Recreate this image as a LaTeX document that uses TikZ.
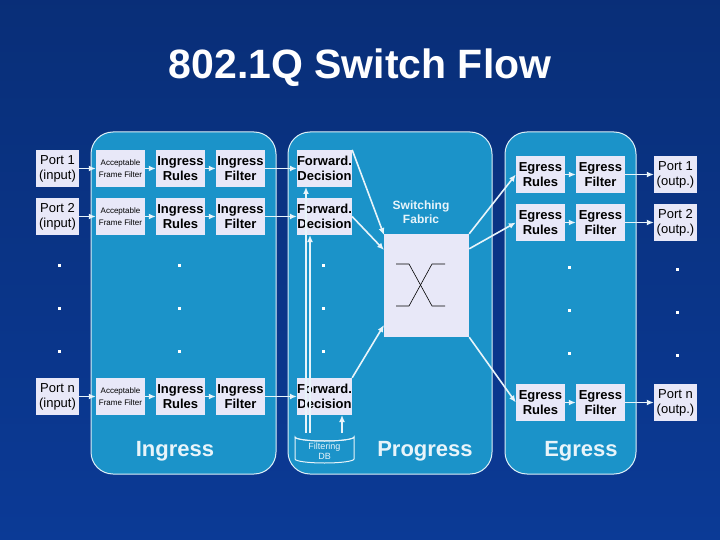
\documentclass[tikz,border=0pt]{standalone}
\usepackage{fontspec}
\setmainfont{Liberation Sans}
\usetikzlibrary{arrows.meta}
\definecolor{bgb}{HTML}{0B3A96}
\definecolor{pan}{HTML}{1B93C9}
\definecolor{lav}{HTML}{E8E8F8}
\begin{document}
\begin{tikzpicture}[x=1pt,y=-1pt,
 panel/.style={draw=white!85!pan,line width=1pt,fill=pan,rounded corners=22pt},
 box/.style={fill=lav,minimum width=49pt,minimum height=37pt,inner sep=0pt,align=center,font=\fontsize{13}{14.5}\selectfont\bfseries,text=black},
 port/.style={box,minimum width=43pt,font=\fontsize{13}{15}\selectfont},
 aff/.style={box,font=\fontsize{8}{12}\selectfont},
 arr/.style={draw=white!90!pan,line width=1.6pt,-{Latex[length=7pt,width=6pt]}},
 dot/.style={fill=white,minimum size=3pt,inner sep=0pt},
 lbl/.style={text=white!90!pan,font=\fontsize{22}{24}\selectfont\bfseries}]
\useasboundingbox (0,0) rectangle (720,540);
\shade[top color=bgb!80!black, bottom color=bgb] (0,0) rectangle (720,540);
\node[text=white!95!lav,font=\fontsize{41}{44}\selectfont\bfseries] (title) at (360,68) {802.1Q Switch Flow};
\draw[panel] (91,132) rectangle (276,474);
\draw[panel] (288,132) rectangle (492,474);
\draw[panel] (505,132) rectangle (636,474);
\foreach \r/\y/\t in {1/168.5/1,2/216.5/2,n/396.5/n}{
 \node[port] (p\r) at (57.5,\y) {Port \t\\(input)};
 \node[aff] (a\r) at (120.5,\y) {Acceptable\\Frame Filter};
 \node[box] (ir\r) at (180.5,\y) {Ingress\\Rules};
 \node[box] (if\r) at (240.5,\y) {Ingress\\Filter};
 \node[box] (fd\r) at (324.5,\y) {Forward.\\Decision};
 \draw[arr] (p\r) -- (a\r); \draw[arr] (a\r) -- (ir\r); \draw[arr] (ir\r) -- (if\r); \draw[arr] (if\r) -- (fd\r);
}
\foreach \r/\y/\t in {1/174.5/1,2/222.5/2,n/402.5/n}{
 \node[box] (er\r) at (540.5,\y) {Egress\\Rules};
 \node[box] (ef\r) at (600.5,\y) {Egress\\Filter};
 \node[port] (o\r) at (675.5,\y) {Port \t\\(outp.)};
 \draw[arr] (er\r) -- (ef\r); \draw[arr] (ef\r) -- (o\r);
}
\foreach \y [count=\i] in {265,308,351}{
 \node[dot] (d1\i) at (59,\y) {}; \node[dot] (d2\i) at (179,\y) {}; \node[dot] (d3\i) at (323,\y) {};
 \node[dot] (d4\i) at (569,\y+2) {}; \node[dot] (d5\i) at (677,\y+4) {};
}
\node[fill=lav,minimum width=85pt,minimum height=103pt,inner sep=0pt] (sf) at (426.5,285.5) {};
\node[text=white!90!pan,font=\fontsize{12}{14}\selectfont\bfseries,align=center] (sfl) at (421,212) {Switching\\Fabric};
\draw[black,line width=0.6pt] (396,264) -- (409,264) -- (432,306) -- (445,306);
\draw[black,line width=0.6pt] (396,306) -- (409,306) -- (432,264) -- (445,264);
\coordinate (s1) at (384,235); \coordinate (s2) at (384,250); \coordinate (sn) at (384,325);
\draw[arr] (fd1.north east) -- (s1); \draw[arr] (fd2.east) -- (s2); \draw[arr] (fdn.north east) -- (sn);
\draw[arr] (sf.north east) -- (er1.west); \draw[arr] (sf.north east) ++(0,15) -- (er2.west); \draw[arr] (sf.south east) -- (ern.west);
% filtering DB cylinder
\draw[draw=white!90!pan,line width=1pt,fill=pan] (295,437) -- (295,459) arc[start angle=180,end angle=360,x radius=29.5,y radius=-4] -- (354,437) arc[start angle=0,end angle=-180,x radius=29.5,y radius=-4] -- cycle;
\draw[draw=white!90!pan,line width=1pt] (295,437) arc[start angle=180,end angle=360,x radius=29.5,y radius=-4];
\node[text=white!90!pan,font=\fontsize{9}{10}\selectfont,align=center] (db) at (324.5,451) {Filtering\\DB};
\coordinate (db1) at (306,433); \coordinate (db2) at (310,433); \coordinate (db3) at (342,433);
\draw[arr] (db1) -- (306,187);
\draw[arr] (db2) -- (310,235);
\draw[arr] (db3) -- (342,415);
\node[lbl] (li) at (175,451) {Ingress};
\node[lbl] (lp) at (425,451) {Progress};
\node[lbl] (le) at (581,451) {Egress};
\end{tikzpicture}
\end{document}
